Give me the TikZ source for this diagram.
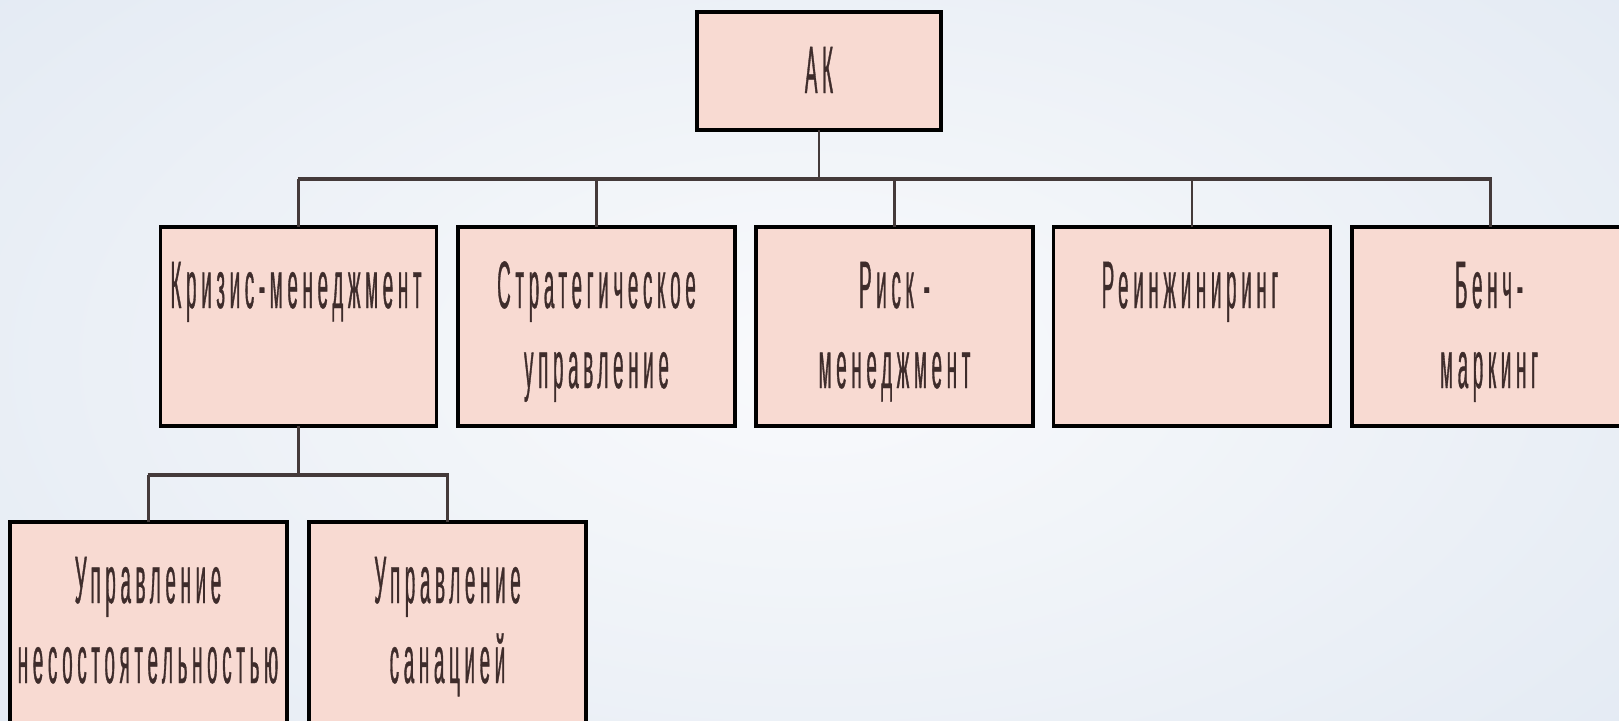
\documentclass[tikz,border=0pt]{standalone}
\usepackage{fontspec}
\newfontfamily\narrowfont[FakeStretch=0.28,LetterSpace=7,FakeBold=0.5]{Liberation Sans}
\usetikzlibrary{calc}
\definecolor{bgedge}{HTML}{E3EAF3}
\definecolor{bgmid}{HTML}{F9FAFC}
\definecolor{boxfill}{HTML}{F8DAD2}
\definecolor{txt}{HTML}{3E2C2B}
\definecolor{connc}{HTML}{443A3A}
\tikzset{
  orgbox/.style={draw=black, line width=3.5pt, fill=boxfill, rectangle, inner sep=0pt, outer sep=0pt},
  lbl/.style={anchor=base, inner sep=0pt, text=txt, font=\narrowfont\fontsize{67}{80}\selectfont},
  conn/.style={draw=connc, line width=2.2pt},
  busline/.style={draw=connc, line width=4pt},
}
\begin{document}
\begin{tikzpicture}[x=1pt,y=-1pt]
\useasboundingbox (0,0) rectangle (1619,720);
\clip (0,0) rectangle (1619,720);
\shade[inner color=bgmid, outer color=bgedge] (-300,-250) rectangle (1919,970);
% boxes
\node[orgbox, minimum width=244pt, minimum height=118pt] (ak) at (819,71) {};
\node[orgbox, minimum width=276pt, minimum height=199pt] (kriz) at (298.5,326.5) {};
\node[orgbox, minimum width=277pt, minimum height=199pt] (strat) at (596.5,326.5) {};
\node[orgbox, minimum width=277pt, minimum height=199pt] (risk) at (894.5,326.5) {};
\node[orgbox, minimum width=277pt, minimum height=199pt] (reeng) at (1192,326.5) {};
\node[orgbox, minimum width=277pt, minimum height=199pt] (bench) at (1490.5,326.5) {};
\node[orgbox, minimum width=277pt, minimum height=215pt] (unes) at (148.5,629.5) {};
\node[orgbox, minimum width=277pt, minimum height=215pt] (usan) at (447.5,629.5) {};
% connectors
\coordinate (bus) at (0,179);
\coordinate (bus2) at (0,475);
\draw[conn] (ak.south) -- (ak.south |- bus);
\draw[busline] ($(kriz.north |- bus)+(-1,0)$) -- ($(bench.north |- bus)+(1,0)$);
\foreach \n in {kriz,strat,risk,reeng,bench}
  \draw[conn] (\n.north) -- (\n.north |- bus);
\draw[conn] (kriz.south) -- (kriz.south |- bus2);
\draw[busline] ($(unes.north |- bus2)+(-1,0)$) -- ($(usan.north |- bus2)+(1,0)$);
\foreach \n in {unes,usan}
  \draw[conn] (\n.north) -- (\n.north |- bus2);
% labels
\node[lbl] (takl) at (819,93) {АК};
\node[lbl] (tkriz) at (296,308) {Кризис-менеджмент};
\node[lbl] (tstrat1) at (596.5,308) {Стратегическое};
\node[lbl] (tstrat2) at (596.5,388) {управление};
\node[lbl] (trisk1) at (894.5,308) {Риск -};
\node[lbl] (trisk2) at (894.5,388) {менеджмент};
\node[lbl] (treeng) at (1190,308) {Реинжиниринг};
\node[lbl] (tbench1) at (1489,308) {Бенч-};
\node[lbl] (tbench2) at (1489,388) {маркинг};
\node[lbl] (tunes1) at (148,603) {Управление};
\node[lbl] (tunes2) at (148,683) {несостоятельностью};
\node[lbl] (tusan1) at (447.5,603) {Управление};
\node[lbl] (tusan2) at (447.5,683) {санацией};
\end{tikzpicture}
\end{document}
